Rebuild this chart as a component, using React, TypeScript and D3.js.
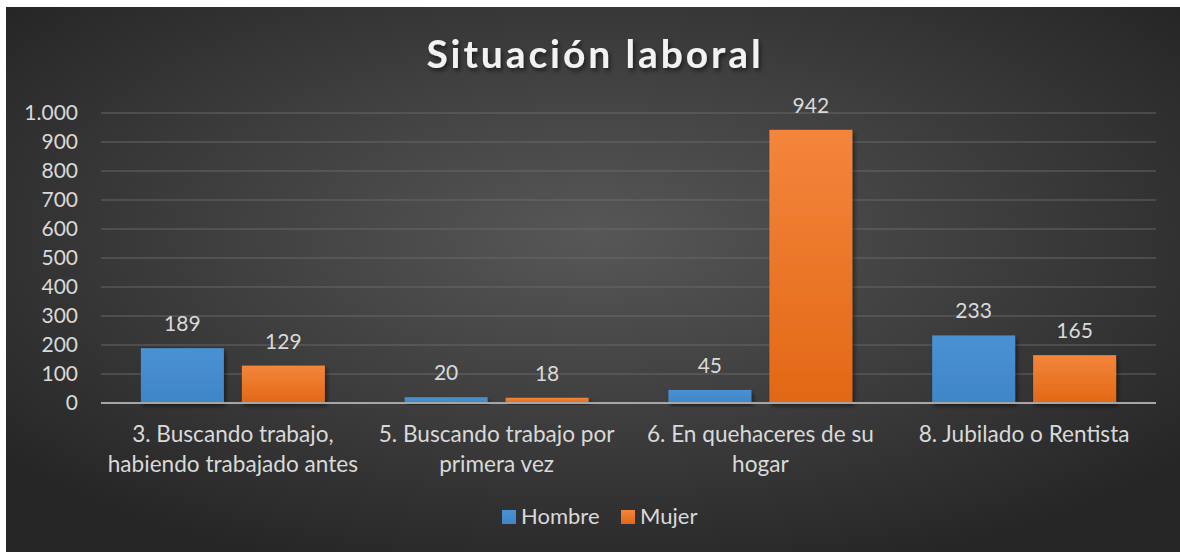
import React, { useEffect, useRef } from "react";
import * as d3 from "d3";

const categories = [
  ["3. Buscando trabajo,", "habiendo trabajado antes"],
  ["5. Buscando trabajo por", "primera vez"],
  ["6. En quehaceres de su", "hogar"],
  ["8. Jubilado o Rentista"],
];
const seriesNames = ["Hombre", "Mujer"];
const hombre = [189, 20, 45, 233];
const mujer = [129, 18, 942, 165];
const yTicks = [0, 100, 200, 300, 400, 500, 600, 700, 800, 900, 1000];

const W = 1180,
  H = 552;
const FONT = "Lato, 'Open Sans', sans-serif";

export default function App() {
  const svgRef = useRef<SVGSVGElement>(null);

  useEffect(() => {
    const svg = d3.select(svgRef.current);
    svg.selectAll("*").remove();

    const defs = svg.append("defs");
    const bg = defs
      .append("radialGradient")
      .attr("id", "bg")
      .attr("cx", "50%")
      .attr("cy", "42%")
      .attr("r", "65%");
    bg.append("stop").attr("offset", "0%").attr("stop-color", "#575757");
    bg.append("stop").attr("offset", "100%").attr("stop-color", "#262626");

    const gBlue = defs.append("linearGradient").attr("id", "gBlue").attr("x1", 0).attr("x2", 0).attr("y1", 0).attr("y2", 1);
    gBlue.append("stop").attr("offset", "0%").attr("stop-color", "#4a91d3");
    gBlue.append("stop").attr("offset", "100%").attr("stop-color", "#3f86c7");
    const gOrange = defs.append("linearGradient").attr("id", "gOrange").attr("x1", 0).attr("x2", 0).attr("y1", 0).attr("y2", 1);
    gOrange.append("stop").attr("offset", "0%").attr("stop-color", "#f4853c");
    gOrange.append("stop").attr("offset", "100%").attr("stop-color", "#e26815");

    const shadow = defs.append("filter").attr("id", "shadow").attr("x", "-10%").attr("y", "-10%").attr("width", "130%").attr("height", "140%");
    shadow.append("feDropShadow").attr("dx", 2).attr("dy", 3).attr("stdDeviation", 2).attr("flood-color", "#000").attr("flood-opacity", 0.5);

    svg.append("rect").attr("x", 6).attr("y", 7).attr("width", W - 6).attr("height", H - 7).attr("fill", "url(#bg)");

    svg
      .append("text")
      .attr("x", 595)
      .attr("y", 68)
      .attr("text-anchor", "middle")
      .attr("font-family", FONT)
      .attr("font-weight", "bold")
      .attr("font-size", 39)
      .attr("letter-spacing", 2.9)
      .attr("fill", "#f2f2f2")
      .attr("filter", "url(#shadow)")
      .text("Situación laboral");

    const left = 101,
      right = 1156;
    const y = d3.scaleLinear().domain([0, 1000]).range([403, 113]);
    const x0 = d3.scaleBand<number>().domain(d3.range(categories.length)).range([left, right]);
    const x1 = d3
      .scaleBand<string>()
      .domain(seriesNames)
      .range([0, x0.bandwidth()])
      .paddingInner(0.178)
      .paddingOuter(0.395);

    // grid
    svg
      .append("g")
      .selectAll("line")
      .data(yTicks.filter((t) => t > 0))
      .join("line")
      .attr("x1", left)
      .attr("x2", right)
      .attr("y1", (d) => y(d))
      .attr("y2", (d) => y(d))
      .attr("stroke", "#6a6a6a")
      .attr("stroke-opacity", 0.6)
      .attr("stroke-width", 1.5);

    // y labels
    svg
      .append("g")
      .selectAll("text")
      .data(yTicks)
      .join("text")
      .attr("x", 78)
      .attr("y", (d) => y(d) + 7)
      .attr("text-anchor", "end")
      .attr("font-family", FONT)
      .attr("font-size", 21)
      .attr("fill", "#d9d9d9")
      .text((d) => d3.format(",")(d).replace(/,/g, "."));

    const data = categories.map((c, i) => ({ i, vals: [hombre[i], mujer[i]] }));
    const fills = ["url(#gBlue)", "url(#gOrange)"];

    const groups = svg
      .append("g")
      .selectAll("g")
      .data(data)
      .join("g")
      .attr("transform", (d) => `translate(${x0(d.i)},0)`);

    groups
      .selectAll("rect")
      .data((d) => d.vals.map((v, k) => ({ v, k })))
      .join("rect")
      .attr("x", (d) => x1(seriesNames[d.k])!)
      .attr("width", x1.bandwidth())
      .attr("y", (d) => y(d.v))
      .attr("height", (d) => y(0) - y(d.v))
      .attr("fill", (d) => fills[d.k])
      .attr("filter", "url(#shadow)");

    groups
      .selectAll("text")
      .data((d) => d.vals.map((v, k) => ({ v, k })))
      .join("text")
      .attr("x", (d) => x1(seriesNames[d.k])! + x1.bandwidth() / 2)
      .attr("y", (d) => y(d.v) - 17)
      .attr("text-anchor", "middle")
      .attr("font-family", FONT)
      .attr("font-size", 21)
      .attr("fill", "#d9d9d9")
      .text((d) => d.v);

    // axis line
    svg
      .append("line")
      .attr("x1", left)
      .attr("x2", right)
      .attr("y1", y(0))
      .attr("y2", y(0))
      .attr("stroke", "#a6a6a6")
      .attr("stroke-width", 2);

    // category labels
    const cl = svg
      .append("g")
      .selectAll("text")
      .data(categories)
      .join("text")
      .attr("x", (d, i) => x0(i)! + x0.bandwidth() / 2)
      .attr("y", 442)
      .attr("text-anchor", "middle")
      .attr("font-family", FONT)
      .attr("font-size", 22.6)
      .attr("fill", "#d9d9d9");
    cl.selectAll("tspan")
      .data((d) => d)
      .join("tspan")
      .attr("x", function () {
        return (this.parentNode as SVGTextElement).getAttribute("x");
      })
      .attr("dy", (d, k) => (k === 0 ? 0 : 30))
      .text((d) => d);

    // legend
    const legendX = [502, 621];
    const lg = svg
      .append("g")
      .selectAll("g")
      .data(seriesNames)
      .join("g")
      .attr("transform", (d, i) => `translate(${legendX[i]},510)`);
    lg.append("rect").attr("width", 14).attr("height", 14).attr("fill", (d, i) => fills[i]);
    lg.append("text")
      .attr("x", 19)
      .attr("y", 14)
      .attr("font-family", FONT)
      .attr("font-size", 22)
      .attr("fill", "#d9d9d9")
      .text((d) => d);
  }, []);

  return (
    <svg
      ref={svgRef}
      width={W}
      height={H}
      style={{ position: "absolute", left: 0, top: 0, background: "#fff" }}
    />
  );
}
